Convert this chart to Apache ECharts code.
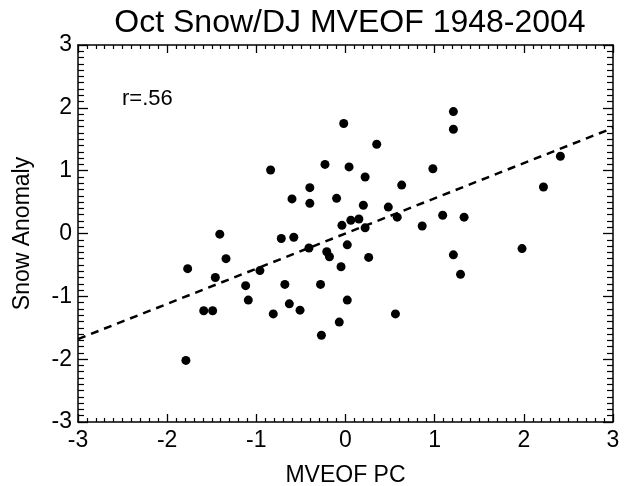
<!DOCTYPE html>
<html>
<head>
<meta charset="utf-8">
<script src="https://cdn.jsdelivr.net/npm/echarts@6/dist/echarts.min.js"></script>
<style>
  html, body { margin: 0; padding: 0; background: #fff; }
  #main { width: 625px; height: 486px; }
</style>
</head>
<body>
<div id="main"></div>
<script>
// MVEOF PC (x) vs snow anomaly (y)
const pcValues = [
  -0.02, 0.35, -0.84, -0.23, 0.04, 0.22, 0.63, 0.98, -0.40, -0.60,
  -0.40, -0.10, 0.20, 0.48, 0.58, 0.86, -0.04, 0.06, 0.15, 0.22,
  -0.72, -0.58, -0.41, 0.02, -0.21, -0.18, 0.26, -0.05, -0.96, -1.12,
  -1.09, -0.68, -0.28, -0.63, -0.51, -0.81, 0.02, -0.07, 0.56, -0.27,
  -1.41, -1.34, -1.77, -1.46, -1.59, -1.49, -1.79, 1.21, 1.29, 1.98,
  1.21, 1.21, 2.41, 2.22, 1.09, 1.33
];
const snowValues = [
  1.75, 1.42, 1.01, 1.10, 1.06, 0.90, 0.77, 1.03, 0.73, 0.55,
  0.48, 0.56, 0.45, 0.42, 0.26, 0.12, 0.13, 0.21, 0.23, 0.09,
  -0.08, -0.06, -0.23, -0.18, -0.29, -0.37, -0.38, -0.53, -0.59, -0.83,
  -1.06, -0.81, -0.81, -1.12, -1.22, -1.28, -1.06, -1.41, -1.28, -1.62,
  -0.01, -0.40, -0.56, -0.70, -1.23, -1.23, -2.02, -0.34, -0.65, -0.24,
  1.94, 1.66, 1.23, 0.74, 0.29, 0.26
];
// regression line end points
const fitX = [-3, 3];
const fitY = [-1.68, 1.68];
const tickLabels = ["-3", "-2", "-1", "0", "1", "2", "3"];

const FONT = "Liberation Sans";
const chart = echarts.init(document.getElementById("main"));

const axisBase = (isX) => ({
  type: "value",
  min: -3,
  max: 3,
  interval: 1,
  axisLine: { show: true, onZero: false, lineStyle: { color: "#000", width: 1.5 } },
  axisTick: { show: true, inside: true, length: isX ? 8 : 10, lineStyle: { color: "#000", width: 1.3 } },
  minorTick: { show: true, splitNumber: 10, length: isX ? 4 : 6, lineStyle: { color: "#000", width: 1.2 } },
  splitLine: { show: false },
  minorSplitLine: { show: false },
});

const scatterData = pcValues.map((v, i) => [v, snowValues[i]]);
const fitData = fitX.map((v, i) => [v, fitY[i]]);

chart.setOption({
  animation: false,
  backgroundColor: "#fff",
  title: {
    text: "Oct Snow/DJ MVEOF 1948-2004",
    left: 345,
    textAlign: "center",
    top: 2,
    textStyle: { fontFamily: FONT, fontSize: 32, fontWeight: "normal", color: "#000" },
  },
  grid: { left: 78, right: 12, top: 45, bottom: 64, outerBoundsMode: "none" },
  xAxis: [
    Object.assign(axisBase(true), {
      position: "bottom",
      name: "MVEOF PC",
      nameLocation: "middle",
      nameGap: 42,
      nameTextStyle: { fontFamily: FONT, fontSize: 23, color: "#000" },
      axisLabel: {
        fontFamily: FONT, fontSize: 23, color: "#000", margin: 7,
        formatter: (v) => tickLabels[Math.round(v) + 3],
      },
    }),
    Object.assign(axisBase(true), { position: "top", axisLabel: { show: false } }),
  ],
  yAxis: [
    Object.assign(axisBase(false), {
      position: "left",
      name: "Snow Anomaly",
      nameLocation: "middle",
      nameGap: 44,
      nameTextStyle: { fontFamily: FONT, fontSize: 23, color: "#000" },
      axisLabel: {
        fontFamily: FONT, fontSize: 23, color: "#000", margin: 6,
        formatter: (v) => tickLabels[Math.round(v) + 3],
      },
    }),
    Object.assign(axisBase(false), { position: "right", axisLabel: { show: false } }),
  ],
  graphic: [
    {
      type: "text",
      left: 122,
      top: 88,
      style: { text: "r=.56", font: "22px " + FONT, fill: "#000" },
    },
  ],
  series: [
    {
      type: "line",
      data: fitData,
      symbol: "none",
      lineStyle: { color: "#000", width: 2.5, type: [8, 6], opacity: 1 },
      silent: true,
    },
    {
      type: "scatter",
      data: scatterData,
      symbol: "circle",
      symbolSize: 9,
      itemStyle: { color: "#000", opacity: 1 },
    },
  ],
});
</script>
</body>
</html>
